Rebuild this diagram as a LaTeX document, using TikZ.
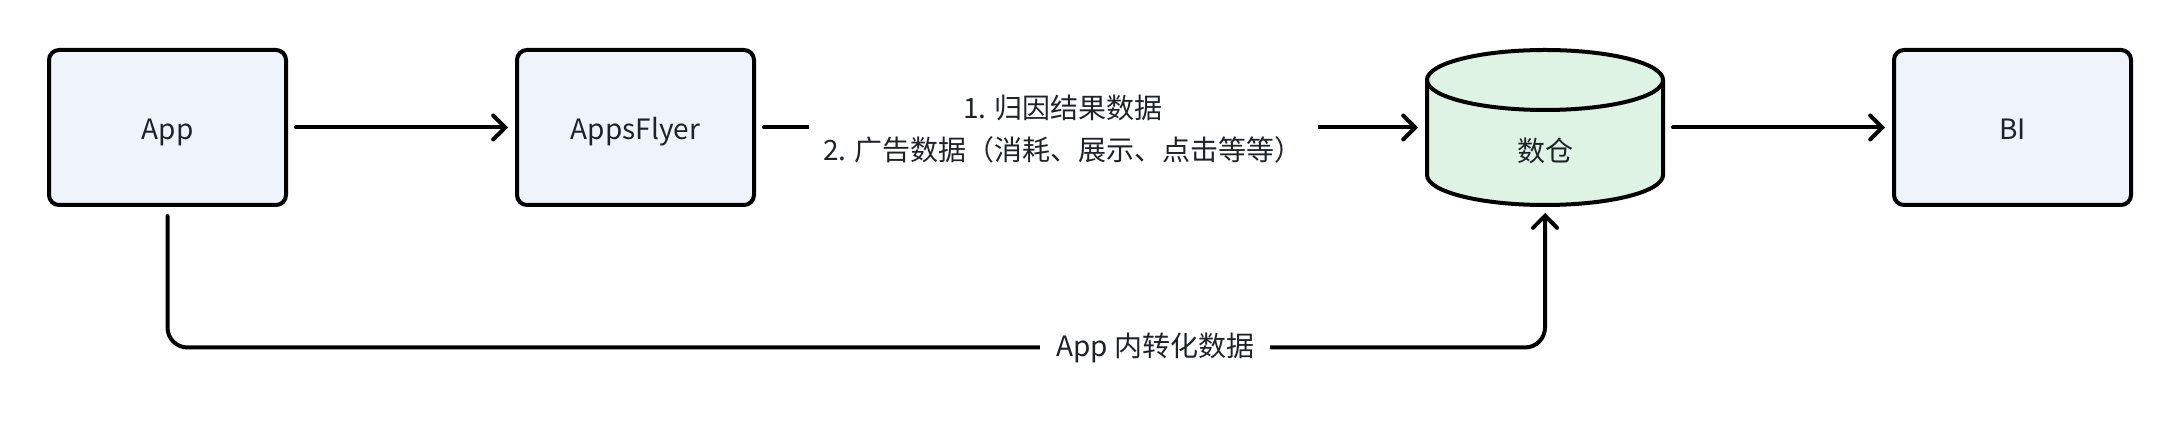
\documentclass[tikz,border=0pt]{standalone}
\usepackage{fontspec}
\setmainfont{Noto Sans CJK SC}
\usetikzlibrary{arrows.meta}
\definecolor{boxfill}{HTML}{EFF3FB}
\definecolor{cylfill}{HTML}{DFF3E4}
\definecolor{txt}{HTML}{1F2329}
\begin{document}
\begin{tikzpicture}[x=0.5pt,y=-0.5pt,
  every node/.style={font=\fontsize{14pt}{20.75pt}\selectfont, text=txt},
  boxnode/.style={draw=black, line width=2pt, fill=boxfill, rounded corners=5pt,
    minimum width=118.5pt, minimum height=77.5pt, inner sep=0pt,
    text height=12.5pt, text depth=0pt},
  cylnode/.style={minimum width=120pt, minimum height=79.5pt, inner sep=0pt, outer sep=0pt},
  cylline/.style={draw=black, line width=2pt},
  conn/.style={draw=black, line width=2pt, line cap=round, line join=round,
    -{Straight Barb[length=6pt,width=12pt,line width=2pt,line cap=round]}},
  lbl/.style={fill=white, inner xsep=0pt, inner ysep=2pt, align=center}
]
\useasboundingbox (0,0) rectangle (2182,426);

% nodes
\node[boxnode] (app) at (167.5,127.5) {App};
\node[boxnode] (af) at (635.5,127.5) {AppsFlyer};
\node[boxnode] (bi) at (2012.5,127.5) {BI};

% cylinder
\filldraw[cylline, fill=cylfill] (1427,80) -- (1427,175)
  arc[start angle=180, end angle=0, x radius=118, y radius=30]
  -- (1663,80)
  arc[start angle=0, end angle=-180, x radius=118, y radius=30] -- cycle;
\draw[cylline] (1427,80) arc[start angle=180, end angle=0, x radius=118, y radius=30];
\node[cylnode] (db) at (1545,127.5) {};
\node[anchor=base] (dbtext) at (1545,162) {数仓};

% connectors
\draw[conn, shorten <=4pt, shorten >=3.5pt] (app) -- (af);
\draw[conn, shorten <=4pt, shorten >=3.5pt] (af) -- (db);
\node[lbl, minimum width=254.5pt] (lbl1) at (1063,129) {1. 归因结果数据\\2. 广告数据（消耗、展示、点击等等）};
\draw[conn, shorten <=4pt, shorten >=3.5pt] (db) -- (bi);

\coordinate (bl) at (167.5,347.5);
\draw[conn, rounded corners=10pt, shorten <=4.5pt, shorten >=3pt]
  (app.south) -- (app.south |- bl) -- (db.south |- bl) -- (db.south);
\node[lbl, minimum width=115pt] (lbl2) at (1155,347.5) {App 内转化数据};
\end{tikzpicture}
\end{document}
